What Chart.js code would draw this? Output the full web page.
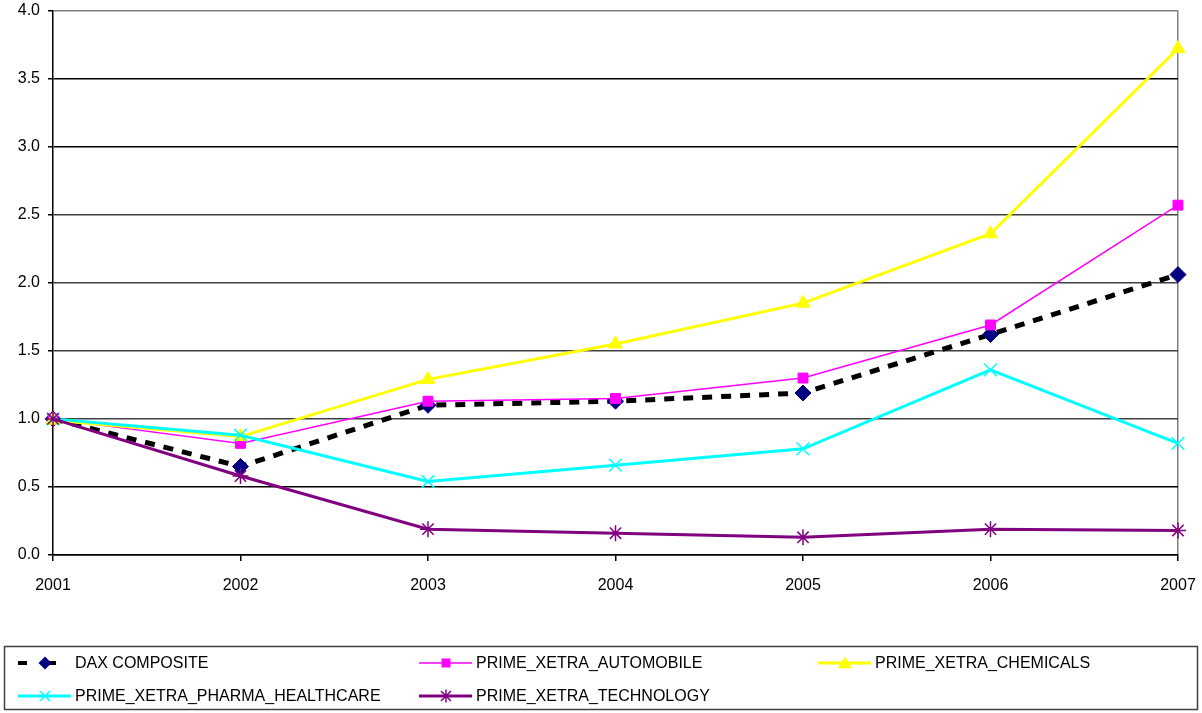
<!DOCTYPE html>
<html>
<head>
<meta charset="utf-8">
<script src="https://cdn.jsdelivr.net/npm/chart.js@4/dist/chart.umd.min.js"></script>
<style>
  html, body { margin: 0; padding: 0; background: #fff; }
  #wrap { width: 1202px; height: 713px; }
</style>
</head>
<body>
<div id="wrap"><canvas id="myChart" width="1202" height="713"></canvas></div>
<script>
// years on the x axis
const years = ["2001", "2002", "2003", "2004", "2005", "2006", "2007"];

// series (index, 2001 = 1.0)
const daxComposite = [1.00, 0.65, 1.10, 1.13, 1.19, 1.62, 2.06];
const automobile   = [1.00, 0.82, 1.13, 1.15, 1.30, 1.69, 2.57];
const chemicals    = [0.99, 0.87, 1.29, 1.55, 1.85, 2.36, 3.72];
const pharma       = [1.00, 0.88, 0.54, 0.66, 0.78, 1.36, 0.82];
const technology   = [1.00, 0.58, 0.19, 0.16, 0.13, 0.19, 0.18];

const seriesNames = [
  "DAX COMPOSITE",
  "PRIME_XETRA_AUTOMOBILE",
  "PRIME_XETRA_CHEMICALS",
  "PRIME_XETRA_PHARMA_HEALTHCARE",
  "PRIME_XETRA_TECHNOLOGY"
];

const yTicks = [0, 0.5, 1.0, 1.5, 2.0, 2.5, 3.0, 3.5, 4.0];

const FONT = { family: "'Liberation Sans', Arial, sans-serif", size: 16 };

// little marker drawer, used only for the legend
function drawMarker(ctx, style, x, y, r, fill, stroke) {
  ctx.save();
  ctx.fillStyle = fill;
  ctx.strokeStyle = stroke;
  ctx.lineWidth = 1.5;
  ctx.setLineDash([]);
  ctx.beginPath();
  if (style === "diamond") {
    ctx.moveTo(x, y - r); ctx.lineTo(x + r, y); ctx.lineTo(x, y + r); ctx.lineTo(x - r, y);
    ctx.closePath(); ctx.fill();
  } else if (style === "square") {
    ctx.rect(x - r, y - r, 2 * r, 2 * r); ctx.fill();
  } else if (style === "triangle") {
    ctx.moveTo(x, y - r); ctx.lineTo(x + r * 1.1, y + r * 0.8); ctx.lineTo(x - r * 1.1, y + r * 0.8);
    ctx.closePath(); ctx.fill();
  } else if (style === "cross") {
    ctx.moveTo(x - r, y - r); ctx.lineTo(x + r, y + r);
    ctx.moveTo(x + r, y - r); ctx.lineTo(x - r, y + r); ctx.stroke();
  } else if (style === "star") {
    ctx.moveTo(x - r, y - r); ctx.lineTo(x + r, y + r);
    ctx.moveTo(x + r, y - r); ctx.lineTo(x - r, y + r);
    ctx.moveTo(x, y - r * 1.3); ctx.lineTo(x, y + r * 1.3); ctx.stroke();
  }
  ctx.restore();
}

const legendBox = {
  id: "legendBox",
  afterDraw(chart) {
    const ctx = chart.ctx;
    ctx.save();
    ctx.strokeStyle = "#404040";
    ctx.lineWidth = 1.5;
    ctx.strokeRect(4.5, 646.5, 1193, 63);

    const cols = [18, 419, 818];
    const rows = [663, 696];
    const looks = [
      { color: "#000000", width: 4, dash: [9, 20], marker: "diamond", mfill: "#000080", r: 6.5 },
      { color: "#FF00FF", width: 1.5, dash: [], marker: "square", mfill: "#FF00FF", r: 4.5 },
      { color: "#FFFF00", width: 3, dash: [], marker: "triangle", mfill: "#FFFF00", r: 6.5 },
      { color: "#00FFFF", width: 3, dash: [], marker: "cross", mfill: "#00FFFF", r: 5 },
      { color: "#800080", width: 3, dash: [], marker: "star", mfill: "#800080", r: 5 }
    ];
    seriesNames.forEach((name, i) => {
      const x0 = cols[i % 3];
      const y = rows[Math.floor(i / 3)];
      const lk = looks[i];
      ctx.beginPath();
      ctx.strokeStyle = lk.color;
      ctx.lineWidth = lk.width;
      ctx.setLineDash(lk.dash);
      ctx.moveTo(x0, y);
      ctx.lineTo(i === 0 ? x0 + 39 : x0 + 53, y);
      ctx.stroke();
      ctx.setLineDash([]);
      drawMarker(ctx, lk.marker, x0 + 27, y, lk.r, lk.mfill, lk.mfill);
      ctx.fillStyle = "#000";
      ctx.font = FONT.size + "px " + FONT.family;
      ctx.textBaseline = "middle";
      ctx.textAlign = "left";
      ctx.fillText(name, x0 + 57, y + 1);
    });
    ctx.restore();
  }
};

const gridColors = ["#000", "#000", "#404040", "#404040", "#404040", "#404040", "#000", "#000", "#808080"];

const chart = new Chart("myChart", {
  type: "line",
  data: {
    labels: years,
    datasets: [{
      label: seriesNames[0],
      data: daxComposite,
      borderColor: "#000000",
      borderWidth: 5,
      borderDash: [10, 9],
      pointStyle: "rectRot",
      pointRadius: 8,
      pointBackgroundColor: "#000080",
      pointBorderColor: "#000080",
      pointBorderWidth: 1,
      order: 4
    }, {
      label: seriesNames[1],
      data: automobile,
      borderColor: "#FF00FF",
      borderWidth: 1.5,
      pointStyle: "rect",
      pointRadius: 7,
      pointBackgroundColor: "#FF00FF",
      pointBorderColor: "#FF00FF",
      pointBorderWidth: 1,
      order: 3
    }, {
      label: seriesNames[2],
      data: chemicals,
      borderColor: "#FFFF00",
      borderWidth: 3,
      pointStyle: "triangle",
      pointRadius: 8,
      pointBackgroundColor: "#FFFF00",
      pointBorderColor: "#FFFF00",
      pointBorderWidth: 1,
      order: 2
    }, {
      label: seriesNames[3],
      data: pharma,
      borderColor: "#00FFFF",
      borderWidth: 3,
      pointStyle: "crossRot",
      pointRadius: 9,
      pointBackgroundColor: "#00FFFF",
      pointBorderColor: "#00FFFF",
      pointBorderWidth: 1.5,
      order: 1
    }, {
      label: seriesNames[4],
      data: technology,
      borderColor: "#800080",
      borderWidth: 3,
      pointStyle: "star",
      pointRadius: 8,
      pointBackgroundColor: "#800080",
      pointBorderColor: "#800080",
      pointBorderWidth: 1.5,
      order: 0
    }]
  },
  options: {
    responsive: false,
    animation: false,
    devicePixelRatio: 1,
    layout: { padding: { top: 10, right: 24, bottom: 113, left: 0 } },
    elements: { line: { tension: 0, fill: false } },
    datasets: { line: { clip: false } },
    plugins: {
      legend: { display: false },
      tooltip: { enabled: false }
    },
    scales: {
      x: {
        offset: false,
        grid: {
          drawOnChartArea: true,
          color: ctx => ctx.index === years.length - 1 ? "#808080" : "rgba(0,0,0,0)",
          tickColor: "#000",
          tickLength: 6,
          lineWidth: 1.5
        },
        border: { color: "#000", width: 1.5 },
        ticks: { color: "#000", font: FONT, padding: 15, maxRotation: 0, autoSkip: false },
        afterFit(scale) {
          scale.height = 45;
          scale.paddingLeft = 0;
          scale.paddingRight = 0;
        }
      },
      y: {
        min: 0,
        max: 4,
        afterBuildTicks(scale) { scale.ticks = yTicks.map(v => ({ value: v })); },
        grid: {
          color: ctx => gridColors[ctx.index] || "#000",
          tickColor: "#000",
          tickLength: 5,
          lineWidth: 1.5
        },
        border: { color: "#000", width: 1.5 },
        ticks: {
          color: "#000",
          font: FONT,
          padding: 8,
          callback: v => Number(v).toFixed(1)
        },
        afterFit(scale) {
          scale.width = 53;
          scale.paddingTop = 0;
          scale.paddingBottom = 0;
        }
      }
    }
  },
  plugins: [legendBox]
});
</script>
</body>
</html>
